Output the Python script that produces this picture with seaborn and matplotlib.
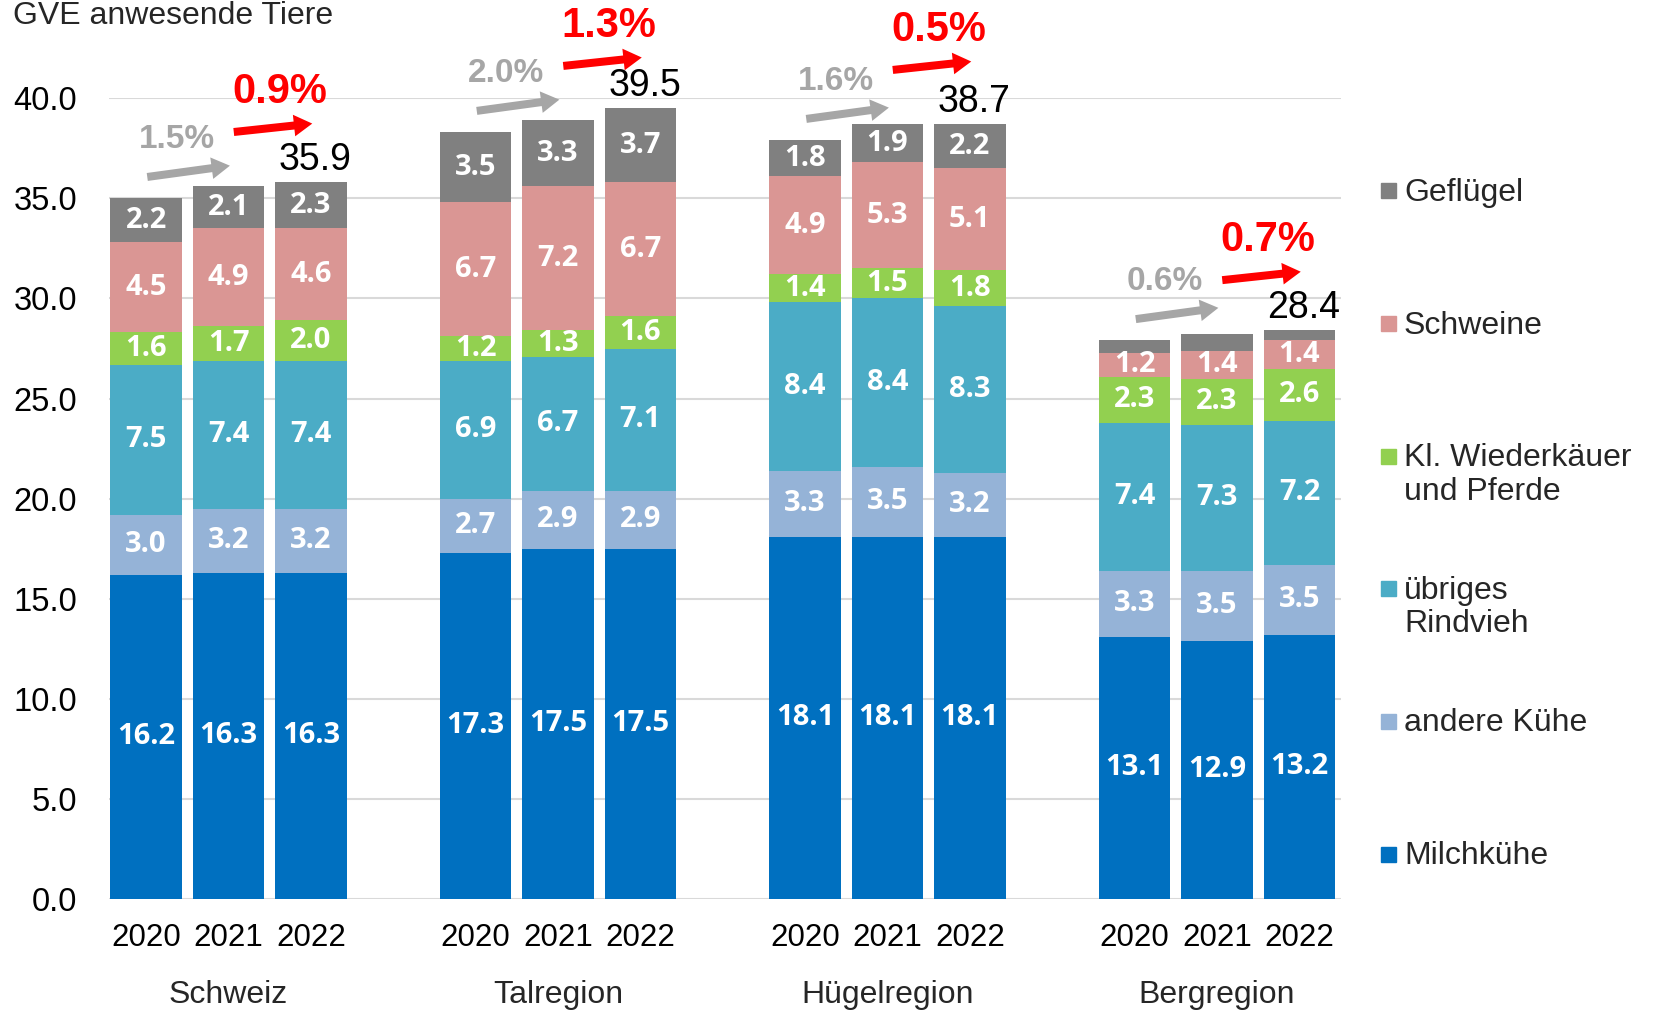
"""Stacked bars: GVE anwesende Tiere by region and year."""

import matplotlib
matplotlib.use("Agg")
import matplotlib.pyplot as plt
import matplotlib.transforms as mtransforms
from matplotlib.patches import Rectangle
import numpy as np
import seaborn as sns

# Data (values per bar in order Schweiz 2020-2022, Tal..., Hügel..., Berg...)
regions = ["Schweiz", "Talregion", "Hügelregion", "Bergregion"]
years = ["2020", "2021", "2022"]

categories = ["Milchkühe", "andere Kühe", "übriges\nRindvieh",
              "Kl. Wiederkäuer\nund Pferde", "Schweine", "Geflügel"]

milchkuehe = [16.2, 16.3, 16.3, 17.3, 17.5, 17.5, 18.1, 18.1, 18.1, 13.1, 12.9, 13.2]
andere_kuehe = [3.0, 3.2, 3.2, 2.7, 2.9, 2.9, 3.3, 3.5, 3.2, 3.3, 3.5, 3.5]
uebriges_rindvieh = [7.5, 7.4, 7.4, 6.9, 6.7, 7.1, 8.4, 8.4, 8.3, 7.4, 7.3, 7.2]
kl_wiederkaeuer = [1.6, 1.7, 2.0, 1.2, 1.3, 1.6, 1.4, 1.5, 1.8, 2.3, 2.3, 2.6]
schweine = [4.5, 4.9, 4.6, 6.7, 7.2, 6.7, 4.9, 5.3, 5.1, 1.2, 1.4, 1.4]
gefluegel = [2.2, 2.1, 2.3, 3.5, 3.3, 3.7, 1.8, 1.9, 2.2, 0.6, 0.8, 0.5]

totals_2022 = [35.9, 39.5, 38.7, 28.4]
growth_2020_2021 = ["1.5%", "2.0%", "1.6%", "0.6%"]
growth_2021_2022 = ["0.9%", "1.3%", "0.5%", "0.7%"]

# Styling
COLORS = ["#0070C0", "#95B3D7", "#4BACC6", "#92D050", "#DA9694", "#808080"]
GRAY_TXT = "#A6A6A6"
RED_TXT = "#FF0000"
ARROW = "simple,head_length=0.55,head_width=0.65,tail_width=0.24"

sns.set_theme(style="white")
plt.rcParams["font.family"] = ["Liberation Sans", "DejaVu Sans"]

layers = [milchkuehe, andere_kuehe, uebriges_rindvieh, kl_wiederkaeuer, schweine, gefluegel]
values = np.array(layers)
tops = np.cumsum(values, axis=0)
bottoms = tops - values

n_years = len(years)
positions = np.array([g * (n_years + 1) + y for g in range(len(regions)) for y in range(n_years)])

fig = plt.figure(figsize=(16.53, 10.13), dpi=100)
ax = fig.add_axes([0.066, 0.1125, 0.745, 0.7905])

# Draw cumulative bars from the top layer down so lower layers overlay
for i in range(len(layers) - 1, -1, -1):
    sns.barplot(x=positions, y=tops[i], native_scale=True, orient="x",
                color=COLORS[i], saturation=1, width=0.87, errorbar=None,
                linewidth=0, ax=ax)

# Segment labels
for i in range(len(layers)):
    for j, x in enumerate(positions):
        v = values[i, j]
        if v < 1.0:
            continue
        ax.text(x, bottoms[i, j] + v / 2, f"{v:.1f}", ha="center", va="center",
                color="white", fontsize=21, fontweight="bold", family="Open Sans")

# Totals and growth arrows
for g in range(len(regions)):
    x0, x1, x2 = positions[g * n_years:(g + 1) * n_years]
    t0, t1, t2 = tops[-1, g * n_years:(g + 1) * n_years]

    ax.text(x2 + 0.05, t2 + 0.2, f"{totals_2022[g]:.1f}", ha="center", va="bottom",
            fontsize=27, color="black")

    gy = t0 + 1.05
    ax.annotate("", xy=(x1 + 0.05, gy + 0.6), xytext=(x0 - 0.02, gy),
                arrowprops=dict(arrowstyle=ARROW, mutation_scale=24, color=GRAY_TXT, lw=0),
                annotation_clip=False)
    ax.text(x0 + 0.37, gy + 1.9, growth_2020_2021[g], ha="center", va="center",
            fontsize=24, fontweight="bold", color=GRAY_TXT)

    ry = t1 + 2.7
    ax.annotate("", xy=(x2 + 0.05, ry + 0.45), xytext=(x1 + 0.03, ry),
                arrowprops=dict(arrowstyle=ARROW, mutation_scale=24, color=RED_TXT, lw=0),
                annotation_clip=False)
    ax.text(x1 + 0.62, ry + 2.0, growth_2021_2022[g], ha="center", va="center",
            fontsize=30, fontweight="bold", color=RED_TXT)

# Axes styling
ax.set_xlim(-0.45, positions[-1] + 0.5)
ax.set_ylim(0, 40)
ax.set_yticks(np.arange(0, 40.1, 5))
ax.set_yticklabels([f"{v:.1f}" for v in np.arange(0, 40.1, 5)])
ax.set_xticks(positions)
ax.set_xticklabels(years * len(regions))
ax.tick_params(axis="both", length=0, colors="black")
ax.tick_params(axis="y", pad=23, labelsize=23.5)
ax.tick_params(axis="x", pad=17, labelsize=22.5)
ax.yaxis.grid(True, color="#D9D9D9", linewidth=1.5)
ax.set_axisbelow(True)
for s in ax.spines.values():
    s.set_visible(False)
ax.set_xlabel("")
ax.set_ylabel("")

# Region labels under the year labels
trans = mtransforms.blended_transform_factory(ax.transData, fig.transFigure)
for g, name in enumerate(regions):
    ax.text(positions[g * n_years + 1], 0.018, name, transform=trans,
            ha="center", va="center", fontsize=23)

fig.text(0.008, 0.984, "GVE anwesende Tiere", ha="left", va="center", fontsize=23)

# Legend (reverse order, top entry = Geflügel)
H = 1013.0
W = 1653.0
for k, i in enumerate(range(len(categories) - 1, -1, -1)):
    yc = 191 + k * 132.6
    fig.patches.append(Rectangle((1381 / W, 1 - (yc + 7.5) / H), 15 / W, 15 / H,
                                 transform=fig.transFigure, color=COLORS[i]))
    fig.text(1404 / W, 1 - (yc - 13) / H, categories[i], ha="left", va="top",
             fontsize=23, linespacing=1.16)

plt.savefig("out.png", dpi=100)
plt.close()
